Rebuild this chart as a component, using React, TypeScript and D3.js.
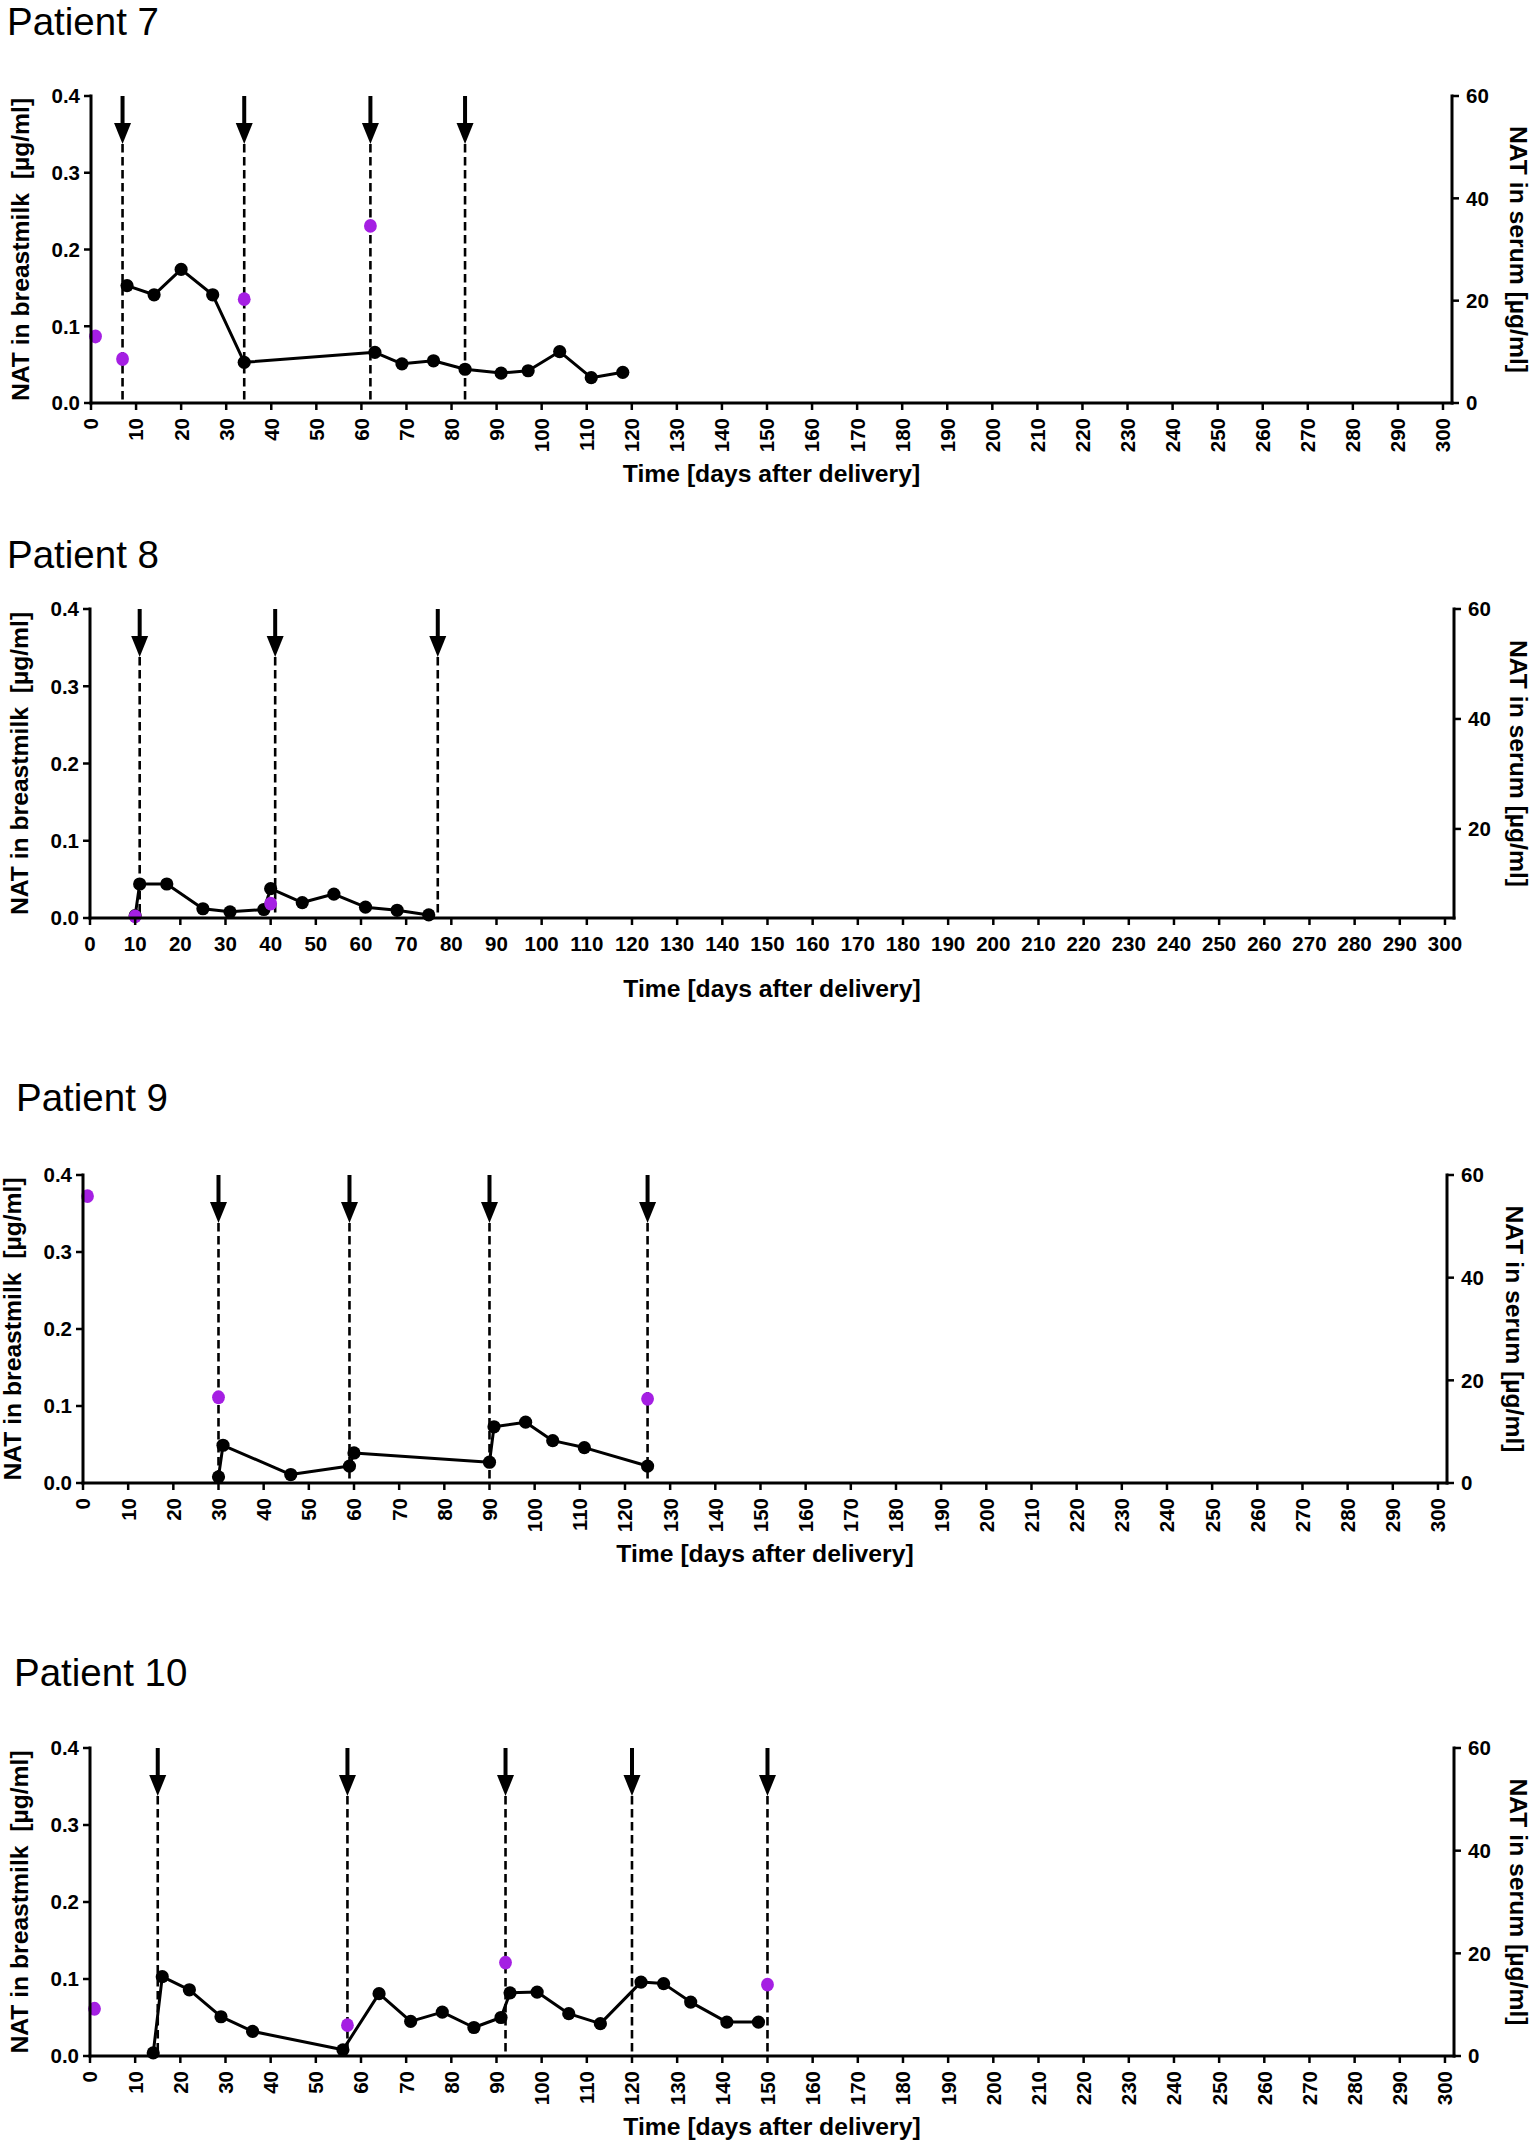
import React from "react";
import * as d3 from "d3";

// ---------- data ----------
const xTicks = d3.range(0, 301, 10);
const leftTicks = [0, 0.1, 0.2, 0.3, 0.4];
const rightTicks = [0, 20, 40, 60];

const milkDays7 = [8, 14, 20, 27, 34, 63, 69, 76, 83, 91, 97, 104, 111, 118];
const milk7 = [0.153, 0.141, 0.174, 0.141, 0.053, 0.066, 0.051, 0.055, 0.044, 0.039, 0.042, 0.067, 0.033, 0.04];
const serumDays7 = [1, 7, 34, 62];
const serum7 = [13.0, 8.6, 20.3, 34.6];
const arrows7 = [7, 34, 62, 83];

const milkDays8 = [10, 11, 17, 25, 31, 38.5, 40, 47, 54, 61, 68, 75];
const milk8 = [0.003, 0.044, 0.044, 0.012, 0.008, 0.011, 0.038, 0.02, 0.031, 0.014, 0.01, 0.004];
const serumDays8 = [10, 40];
const serum8 = [4.1, 6.4];
const arrows8 = [11, 41, 77];

const milkDays9 = [30, 31, 46, 59, 60, 90, 91, 98, 104, 111, 125];
const milk9 = [0.008, 0.049, 0.011, 0.022, 0.039, 0.027, 0.073, 0.079, 0.055, 0.046, 0.022];
const serumDays9 = [1, 30, 125];
const serum9 = [55.9, 16.7, 16.4];
const arrows9 = [30, 59, 90, 125];

const milkDays10 = [14, 16, 22, 29, 36, 56, 64, 71, 78, 85, 91, 93, 99, 106, 113, 122, 127, 133, 141, 148];
const milk10 = [0.004, 0.103, 0.086, 0.051, 0.032, 0.008, 0.081, 0.045, 0.057, 0.037, 0.05, 0.082, 0.083, 0.055, 0.042, 0.096, 0.094, 0.07, 0.044, 0.044];
const serumDays10 = [1, 57, 92, 150];
const serum10 = [9.2, 6.0, 18.2, 13.9];
const arrows10 = [15, 57, 92, 120, 150];

const titles = ["Patient 7", "Patient 8", "Patient 9", "Patient 10"];
const xTitle = "Time [days after delivery]";
const leftTitle = "NAT in breastmilk  [µg/ml]";
const rightTitle = "NAT in serum [µg/ml]";

// ---------- layout ----------
const FONT = "'Liberation Sans', Arial, Helvetica, sans-serif";
const PURPLE = "#a51fe3";

const panels = [
  { title: titles[0], tx: 7, ty: 35, xl: 91, xr: 1452, yt: 96, yb: 403, rot: true, rMin: 0,
    md: milkDays7, mv: milk7, sd: serumDays7, sv: serum7, ar: arrows7 },
  { title: titles[1], tx: 7, ty: 568, xl: 90, xr: 1454, yt: 609, yb: 918, rot: false, rMin: 3.8,
    md: milkDays8, mv: milk8, sd: serumDays8, sv: serum8, ar: arrows8 },
  { title: titles[2], tx: 16, ty: 1111, xl: 83, xr: 1447, yt: 1175, yb: 1483, rot: true, rMin: 0,
    md: milkDays9, mv: milk9, sd: serumDays9, sv: serum9, ar: arrows9 },
  { title: titles[3], tx: 14, ty: 1686, xl: 90, xr: 1454, yt: 1748, yb: 2056, rot: true, rMin: 0,
    md: milkDays10, mv: milk10, sd: serumDays10, sv: serum10, ar: arrows10 },
];

function Panel({ p }: { p: any }) {
  const x = d3.scaleLinear().domain([0, 302]).range([p.xl, p.xr]);
  const yL = d3.scaleLinear().domain([0, 0.4]).range([p.yb, p.yt]);
  const yR = d3.scaleLinear().domain([p.rMin, 60]).range([p.yb, p.yt]);
  const pts = p.md.map((d: number, i: number) => [d, p.mv[i]] as [number, number]);
  const line = d3.line<[number, number]>().x((d) => x(d[0])).y((d) => yL(d[1]));
  const rTicks = rightTicks.filter((t) => t >= p.rMin);
  const fmtL = d3.format(".1f");
  const tickF = 20.5;
  const titleF = 24.7;
  const rtx = Math.min(p.xr + 68, 1519);
  return (
    <g>
      <text x={p.tx} y={p.ty} fontFamily={FONT} fontSize={38.5} fill="#000">{p.title}</text>

      {/* arrows + dashed lines */}
      {p.ar.map((a: number, i: number) => {
        const ax = x(a);
        return (
          <g key={"a" + i}>
            <line x1={ax} x2={ax} y1={p.yt} y2={p.yt + 30} stroke="#000" strokeWidth={4} />
            <path d={`M${ax - 8.5},${p.yt + 27} L${ax + 8.5},${p.yt + 27} L${ax},${p.yt + 48} Z`} fill="#000" />
            <line x1={ax} x2={ax} y1={p.yt + 48} y2={p.yb} stroke="#000" strokeWidth={2.6} strokeDasharray="8.5,4.5" />
          </g>
        );
      })}

      {/* breastmilk line */}
      <path d={line(pts) || ""} fill="none" stroke="#000" strokeWidth={3} strokeLinejoin="round" />
      {pts.map((d: [number, number], i: number) => (
        <circle key={"m" + i} cx={x(d[0])} cy={yL(d[1])} r={6.6} fill="#000" />
      ))}
      {/* serum points */}
      {p.sd.map((d: number, i: number) => (
        <ellipse key={"s" + i} cx={x(d)} cy={yR(p.sv[i])} rx={6.4} ry={6.9} fill={PURPLE} />
      ))}

      {/* axes */}
      <line x1={p.xl} x2={p.xl} y1={p.yt - 1.5} y2={p.yb + 1.5} stroke="#000" strokeWidth={3} />
      <line x1={p.xr} x2={p.xr} y1={p.yt - 1.5} y2={p.yb + 1.5} stroke="#000" strokeWidth={3} />
      <line x1={p.xl - 1.5} x2={p.xr + 1.5} y1={p.yb} y2={p.yb} stroke="#000" strokeWidth={3} />

      {leftTicks.map((t) => (
        <g key={"l" + t}>
          <line x1={p.xl - 7} x2={p.xl} y1={yL(t)} y2={yL(t)} stroke="#000" strokeWidth={2.5} />
          <text x={p.xl - 11} y={yL(t)} dy="0.36em" textAnchor="end" fontFamily={FONT} fontWeight="bold" fontSize={tickF}>{fmtL(t)}</text>
        </g>
      ))}
      {rTicks.map((t) => (
        <g key={"r" + t}>
          <line x1={p.xr} x2={p.xr + 7} y1={yR(t)} y2={yR(t)} stroke="#000" strokeWidth={2.5} />
          <text x={p.xr + 14} y={yR(t)} dy="0.36em" textAnchor="start" fontFamily={FONT} fontWeight="bold" fontSize={tickF}>{t}</text>
        </g>
      ))}
      {xTicks.map((t) => (
        <g key={"x" + t}>
          <line x1={x(t)} x2={x(t)} y1={p.yb} y2={p.yb + 7} stroke="#000" strokeWidth={2.5} />
          {p.rot ? (
            <text transform={`translate(${x(t)},${p.yb + 15}) rotate(-90)`} dy="0.36em" textAnchor="end" fontFamily={FONT} fontWeight="bold" fontSize={tickF}>{t}</text>
          ) : (
            <text x={x(t)} y={p.yb + 33} textAnchor="middle" fontFamily={FONT} fontWeight="bold" fontSize={tickF}>{t}</text>
          )}
        </g>
      ))}

      {/* axis titles */}
      <text x={(p.xl + p.xr) / 2} y={p.yb + 79} textAnchor="middle" fontFamily={FONT} fontWeight="bold" fontSize={titleF}>{xTitle}</text>
      <text transform={`translate(${p.xl - 71},${(p.yt + p.yb) / 2}) rotate(-90)`} dy="0.36em" textAnchor="middle" fontFamily={FONT} fontWeight="bold" fontSize={titleF} style={{ whiteSpace: "pre" }}>{leftTitle}</text>
      <text transform={`translate(${rtx},${(p.yt + p.yb) / 2}) rotate(90)`} dy="0.36em" textAnchor="middle" fontFamily={FONT} fontWeight="bold" fontSize={titleF}>{rightTitle}</text>
    </g>
  );
}

export default function App() {
  return (
    <div style={{ position: "absolute", left: 0, top: 0, width: 1535, height: 2143, background: "#fff" }}>
      <svg width={1535} height={2143} viewBox="0 0 1535 2143" style={{ display: "block" }}>
        <rect x={0} y={0} width={1535} height={2143} fill="#fff" />
        {panels.map((p, i) => (
          <Panel key={i} p={p} />
        ))}
      </svg>
    </div>
  );
}
